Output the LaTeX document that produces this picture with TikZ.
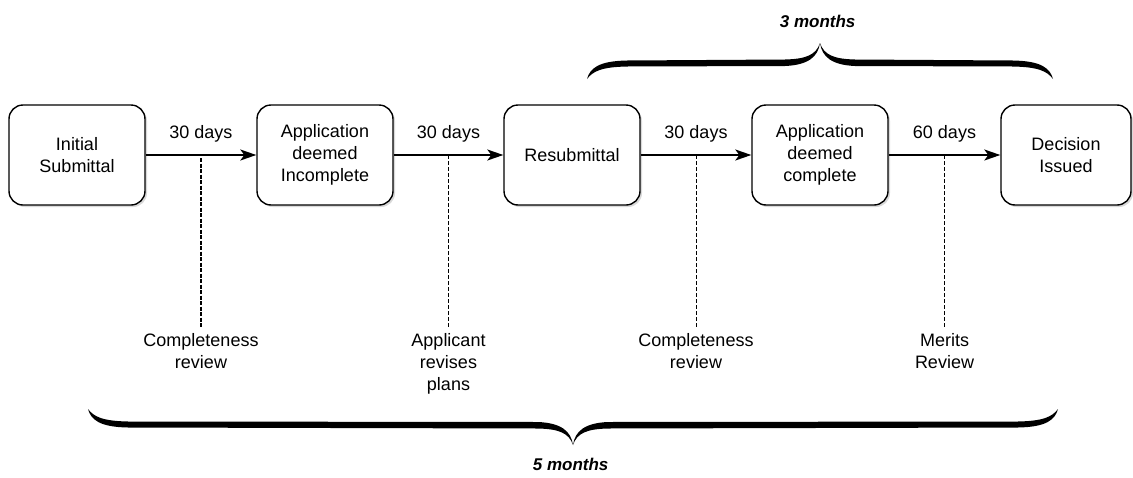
\documentclass[tikz,border=0pt]{standalone}
\usepackage{fontspec}
\setmainfont{Liberation Sans}
\usetikzlibrary{positioning,arrows.meta,shadows}

\begin{document}
\begin{tikzpicture}[x=1pt,y=1pt]
    % size of each box
    \def\bw{136pt}
    \def\bh{100pt}
    % node style definition
    \tikzstyle{stage} = [
    	draw, fill=white, rectangle, rounded corners=14pt, line width=1.4pt,
    	minimum height=\bh, minimum width=\bw, align=center,
    	drop shadow={opacity=0.3, shadow xshift=2pt, shadow yshift=-2pt} ];
    \tikzstyle{plain} = [draw=none, fill=none, align=center];
    \tikzstyle{flow} = [line width=1.5pt, -{Stealth[length=16pt, width=11pt, inset=4pt]}];
    \tikzstyle{tick} = [line width=1pt, dash pattern=on 4pt off 2pt];
    \tikzstyle{span} = [fill=black, draw=none];
    % half of a curly brace, tip at the origin, #1 = half length
    \def\halfbrace#1{
    	(0,0) .. controls (4,-12) and (14,-16) .. (35,-16.5)
    	-- (#1-40,-17.5) .. controls (#1-12,-18) and (#1-3,-25) .. (#1,-36)
    	.. controls (#1-6,-28) and (#1-15,-24) .. (#1-40,-23.5)
    	-- (35,-23) .. controls (12,-22) and (2,-14) .. (0,0) -- cycle }
    \useasboundingbox (0,0) rectangle (1133,-477);
    \fontsize{18}{22}\selectfont
    % boxes
    \foreach \x/\nm/\txt in {77/init/{Initial\\Submittal},
    	325/incomp/{Application\\deemed\\Incomplete},
    	572/resub/Resubmittal,
    	820/comp/{Application\\deemed\\complete}}
    {
    	\node[stage] (\nm) at (\x,-155) { \txt };
    }
    \node[stage, minimum width=130pt] (decision) at (1066,-155) { Decision\\Issued };
    % arrows with day counts
    \foreach \a/\b/\d/\i in {init/incomp/30/1, incomp/resub/30/2,
    	resub/comp/30/3, comp/decision/60/4}
    {
    	\draw[flow] (\a) -- (\b) coordinate[midway] (m\i)
    		node[midway, above=6pt] (days\i) { \d\ days };
    }
    % review notes below
    \node[plain, below=172pt of m1] (note1) { Completeness\\review };
    \node[plain, below=172pt of m2] (note2) { Applicant\\revises\\plans };
    \node[plain, below=172pt of m3] (note3) { Completeness\\review };
    \node[plain, below=172pt of m4] (note4) { Merits\\Review };
    \draw[tick, line width=2.6pt, dash pattern=on 4pt off 1.5pt] ([yshift=-3pt]m1) -- (note1);
    \foreach \i in {2,3,4}
    	\draw[tick] (m\i) -- (note\i);
    % braces
    \coordinate (tip3) at (820,-43);
    \coordinate (tip5) at (573,-445);
    \foreach \s in {1,-1}
    {
    	\fill[span, shift={(tip3)}, xscale=\s] \halfbrace{233};
    	\fill[span, shift={(tip5)}, xscale=\s, yscale=-1] \halfbrace{485};
    }
    \node[plain, inner sep=1pt, above=14pt of tip3] (three)
    	{ \fontsize{17}{20}\selectfont\textbf{\textit{3 months}} };
    \node[plain, inner sep=1pt, below=12pt of tip5] (five)
    	{ \fontsize{17}{20}\selectfont\textbf{\textit{5 months}} };
\end{tikzpicture}
\end{document}
